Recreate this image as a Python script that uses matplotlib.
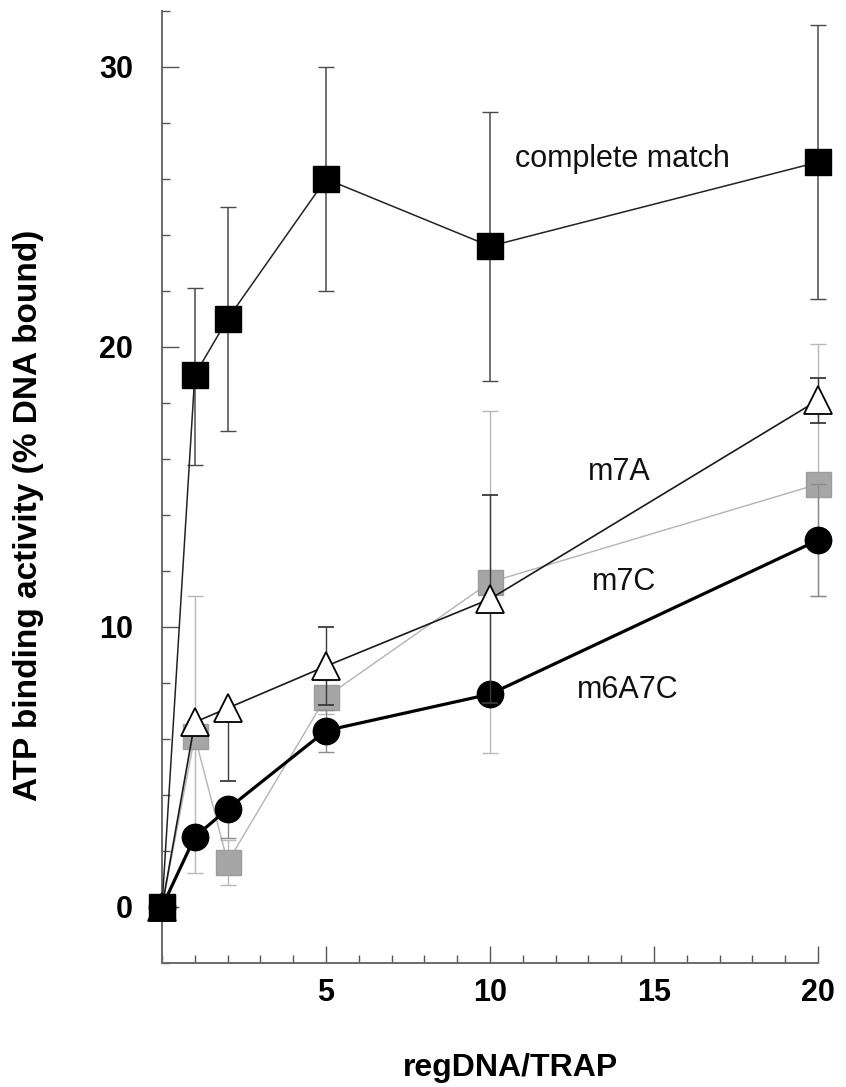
import matplotlib
matplotlib.use('Agg')
import matplotlib.pyplot as plt
from matplotlib.ticker import MultipleLocator

plt.rcParams['font.family'] = ['Liberation Sans', 'DejaVu Sans']

# regDNA/TRAP ratio
ratio = [0, 1, 2, 5, 10, 20]

# complete match
full_y = [0, 19.0, 21.0, 26.0, 23.6, 26.6]
full_lo = [0, 3.2, 4.0, 4.0, 4.8, 4.9]
full_hi = [0, 3.1, 4.0, 4.0, 4.8, 4.9]

# m7A
m7a_y = [0, 6.6, 7.1, 8.6, 11.0, 18.1]
m7a_lo = [0, 0, 2.6, 1.4, 3.7, 0.8]
m7a_hi = [0, 0, 0, 1.4, 3.7, 0.8]

# m7C
m7c_y = [0, 6.1, 1.6, 7.5, 11.6, 15.1]
m7c_lo = [0, 4.9, 0.8, 0.6, 6.1, 4.0]
m7c_hi = [0, 5.0, 0.8, 0.6, 6.1, 5.0]

# m6A7C
m6a_y = [0, 2.5, 3.5, 6.3, 7.6, 13.1]
m6a_lo = [0, 0, 1.05, 0.75, 0.3, 2.0]
m6a_hi = [0, 0, 0, 0.75, 0.3, 2.0]

labels = ['complete match', 'm7A', 'm7C', 'm6A7C']
label_x = [14.05, 13.95, 14.1, 14.2]
label_y = [26.7, 15.55, 11.6, 7.75]


def draw(ax, y, lo, hi, z, **kw):
    cont = ax.errorbar(ratio, y, yerr=[lo, hi], zorder=z, **kw)
    data_line, caps, bars = cont.lines
    for art in [data_line, *caps, *bars]:
        art.set_clip_on(False)
    return cont


fig = plt.figure(figsize=(8.46, 10.87), dpi=100)
ax = fig.add_axes([0.1915, 0.1141, 0.7754, 0.8758])

draw(ax, m7c_y, m7c_lo, m7c_hi, 2, color='#b4b4b4', lw=1.0, marker='s', ms=18,
     mfc='#a6a6a6', mec='#9c9c9c', ecolor='#b8b8b8', elinewidth=1.0, capsize=5.5)
draw(ax, m6a_y, m6a_lo, m6a_hi, 3, color='black', lw=2.3, marker='o', ms=19,
     mfc='black', mec='black', ecolor='#8c8c8c', elinewidth=1.0, capsize=5.5)
draw(ax, m7a_y, m7a_lo, m7a_hi, 4, color='#1a1a1a', lw=1.2, marker='^', ms=20,
     mfc='white', mec='black', mew=1.3, ecolor='#3a3a3a', elinewidth=1.0, capsize=5.5)
draw(ax, full_y, full_lo, full_hi, 5, color='#222222', lw=1.1, marker='s', ms=19,
     mfc='black', mec='black', ecolor='#4a4a4a', elinewidth=1.1, capsize=6)

for txt, tx, ty in zip(labels, label_x, label_y):
    ax.text(tx, ty, txt, ha='center', va='center', fontsize=22, color='#111111')

ax.set_xlim(0, 20)
ax.set_ylim(-2, 32)
ax.spines['top'].set_visible(False)
ax.spines['right'].set_visible(False)
for side in ['left', 'bottom']:
    ax.spines[side].set_color('#6a6a6a')
    ax.spines[side].set_linewidth(1.4)

ax.set_xticks([5, 10, 15, 20])
ax.xaxis.set_minor_locator(MultipleLocator(1))
ax.set_yticks([0, 10, 20, 30])
ax.yaxis.set_minor_locator(MultipleLocator(2))
ax.tick_params(which='both', direction='in', color='#555555', width=1.0)
ax.tick_params(which='major', length=12)
ax.tick_params(which='minor', length=6)
ax.tick_params(axis='y', which='major', pad=21, labelsize=22)
ax.tick_params(axis='x', which='major', pad=11, labelsize=22)
for lbl in ax.get_xticklabels() + ax.get_yticklabels():
    lbl.set_fontweight('bold')

fig.text(0.603, 0.0101, 'regDNA/TRAP', ha='center', va='baseline',
         fontsize=23, fontweight='bold')
fig.text(0.034, 0.526, 'ATP binding activity (% DNA bound)', rotation=90,
         ha='center', va='center', fontsize=24, fontweight='bold')

fig.savefig('out.png', dpi=100)
